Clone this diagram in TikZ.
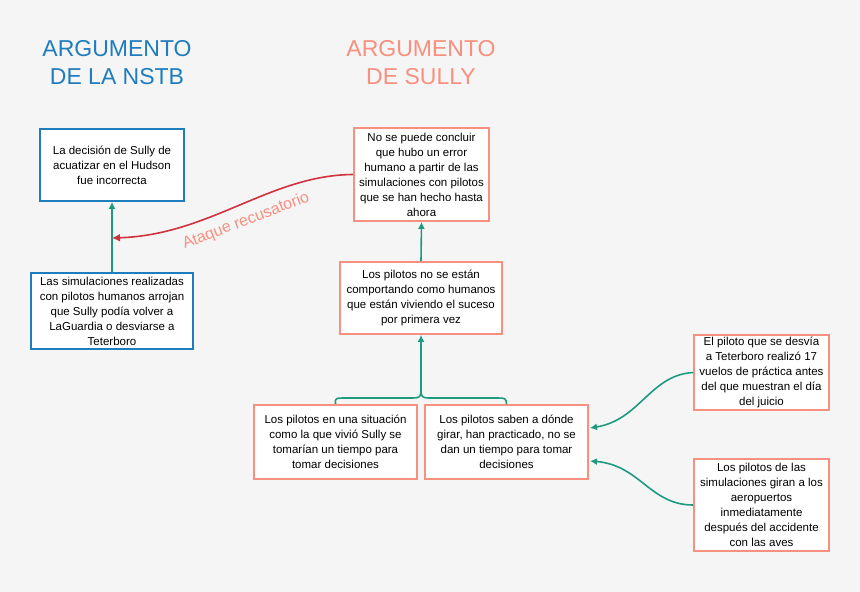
\documentclass[tikz,border=0pt]{standalone}
\usepackage{fontspec}
\setmainfont{Liberation Sans}
\usetikzlibrary{arrows.meta}
\definecolor{bg}{HTML}{F5F5F5}
\definecolor{bl}{HTML}{1F7DBE}
\definecolor{sa}{HTML}{F8907F}
\definecolor{gr}{HTML}{1E9A7F}
\definecolor{rd}{HTML}{D0323E}
\begin{document}
\begin{tikzpicture}[x=1pt,y=-1pt,
  bbox/.style={draw=bl,line width=1.8pt,fill=white,align=center,font=\fontsize{11.5}{15}\selectfont,inner sep=0pt},
  sbox/.style={draw=sa,line width=1.8pt,fill=white,align=center,font=\fontsize{11.5}{15}\selectfont,inner sep=0pt},
  ttl/.style={align=center,font=\fontsize{23}{28}\selectfont},
  garr/.style={draw=gr,line width=1.6pt,-{Latex[length=7pt,width=7pt]}},
  rarr/.style={draw=rd,line width=1.6pt,-{Latex[length=8pt,width=8pt]}}]
\path[fill=bg] (0,0) rectangle (860,592);
\node[ttl,text=bl] (t1) at (117,63) {ARGUMENTO\\DE LA NSTB};
\node[ttl,text=sa] (t2) at (421,63) {ARGUMENTO\\DE SULLY};
\node[bbox,minimum width=144pt,minimum height=72pt] (n1) at (112,165) {La decisión de Sully de\\acuatizar en el Hudson\\fue incorrecta};
\node[bbox,minimum width=162pt,minimum height=76pt] (n2) at (112,311) {Las simulaciones realizadas\\con pilotos humanos arrojan\\que Sully podía volver a\\LaGuardia o desviarse a\\Teterboro};
\node[sbox,minimum width=135pt,minimum height=93pt] (s1) at (421.5,174.5) {No se puede concluir\\que hubo un error\\humano a partir de las\\simulaciones con pilotos\\que se han hecho hasta\\ahora};
\node[sbox,minimum width=162pt,minimum height=72pt] (s2) at (421,298) {Los pilotos no se están\\comportando como humanos\\que están viviendo el suceso\\por primera vez};
\node[sbox,minimum width=163pt,minimum height=74pt] (s3) at (335.5,442) {Los pilotos en una situación\\como la que vivió Sully se\\tomarían un tiempo para\\tomar decisiones};
\node[sbox,minimum width=163pt,minimum height=74pt] (s4) at (506.5,442) {Los pilotos saben a dónde\\girar, han practicado, no se\\dan un tiempo para tomar\\decisiones};
\node[sbox,minimum width=135pt,minimum height=75pt] (r1) at (761.5,372.5) {El piloto que se desvía\\a Teterboro realizó 17\\vuelos de práctica antes\\del que muestran el día\\del juicio};
\node[sbox,minimum width=135pt,minimum height=92pt] (r2) at (761.5,505) {Los pilotos de las\\simulaciones giran a los\\aeropuertos\\inmediatamente\\después del accidente\\con las aves};
\draw[garr] (n2.north) -- (n1.south);
\draw[rarr] (s1.west) .. controls (270,175) and (210,235) .. (112,238);
\node[text=sa,rotate=21,font=\fontsize{16}{18}\selectfont] (lab) at (246,221) {Ataque recusatorio};
\draw[garr] (s2.north) -- (s1.south);
\coordinate (bt) at (421,386);
\draw[draw=gr,line width=1.6pt] (s3.north) .. controls (335,398) .. (347,398) -- (409,398) .. controls (421,398) .. (bt)
  .. controls (421,398) .. (433,398) -- (494,398) .. controls (506,398) .. (s4.north);
\draw[garr] (bt) -- (s2.south);
\draw[garr] (r1.west) .. controls (650,375) and (640,420) .. (590,428);
\draw[garr] (r2.west) .. controls (650,505) and (640,465) .. (590,461);
\end{tikzpicture}
\end{document}
